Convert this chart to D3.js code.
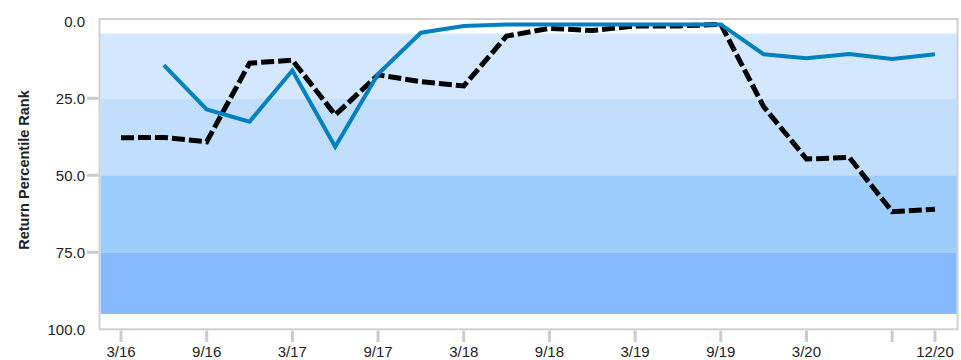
<!DOCTYPE html>
<html><head><meta charset="utf-8">
<script src="https://cdn.jsdelivr.net/npm/d3@7"></script>
<style>body{margin:0;background:#fff}svg{display:block}text{font-family:"Liberation Sans",Arial,sans-serif}</style>
</head><body><svg id="c" width="961" height="360"></svg>
<script>
const quarters = ["3/16","6/16","9/16","12/16","3/17","6/17","9/17","12/17","3/18","6/18","9/18","12/18","3/19","6/19","9/19","12/19","3/20","6/20","9/20","12/20"];
const fundRank = [null,14.2,28.6,32.6,16.0,40.7,17.1,3.7,1.5,1.0,1.0,1.0,1.0,1.0,1.0,10.7,12.0,10.6,12.2,10.7];
const benchRank = [37.8,37.7,39.1,13.6,12.6,30.4,17.4,19.6,21.0,4.8,2.3,3.0,1.5,1.5,1.0,27.7,44.7,44.2,61.8,61.0];
const bandEdges = [[4,25],[25,50],[50,75],[75,95]];
const bandColors = ["#d3e8fe","#c1dffd","#9dcdfc","#86b9fd"];
const yTicks = [0,25,50,75,100];
const xTicks = ["3/16","9/16","3/17","9/17","3/18","9/18","3/19","9/19","3/20","9/20","12/20"];
const xTickLabels = ["3/16","9/16","3/17","9/17","3/18","9/18","3/19","9/19","3/20","","12/20"];

const svg = d3.select("#c");
const x = d3.scalePoint().domain(quarters).range([121, 935]);
const y = d3.scaleLinear().domain([0,100]).range([21.3, 329.3]);
const pLeft = 99.5, pRight = 957.5, pTop = 19;

svg.append("g").selectAll("rect").data(bandEdges).join("rect")
  .attr("x", pLeft + 1).attr("width", pRight - pLeft - 1.5)
  .attr("y", d => y(d[0])).attr("height", d => y(d[1]) - y(d[0]))
  .attr("fill", (d,i) => bandColors[i]);

svg.append("rect").attr("x", pLeft).attr("y", pTop).attr("width", pRight-pLeft).attr("height", y(100)-pTop)
  .attr("fill","none").attr("stroke","#d0d0d0").attr("stroke-width",2);

// y axis
const ya = svg.append("g");
ya.selectAll("line").data(yTicks.filter(d => d>0 && d<100)).join("line")
  .attr("x1", 87).attr("x2", 98.5).attr("y1", d=>y(d)).attr("y2", d=>y(d))
  .attr("stroke","#c8cbcf").attr("stroke-width",3);
ya.selectAll("text").data(yTicks).join("text")
  .attr("x", 85).attr("y", d=>y(d)).attr("dy","0.35em").attr("text-anchor","end")
  .attr("font-size",15).attr("fill","#222").text(d=>d3.format(".1f")(d));
svg.append("text").attr("transform","translate(28.5,170) rotate(-90)").attr("text-anchor","middle")
  .attr("font-size",14.5).attr("font-weight","bold").attr("fill","#222").text("Return Percentile Rank");

// x axis
const xa = svg.append("g");
xa.selectAll("line").data(xTicks).join("line")
  .attr("x1", d=>x(d)).attr("x2", d=>x(d)).attr("y1", 330.5).attr("y2", 342)
  .attr("stroke","#c8cbcf").attr("stroke-width",3);
xa.selectAll("text").data(xTicks).join("text")
  .attr("x", d=>x(d)).attr("y", 357).attr("text-anchor","middle")
  .attr("font-size",15).attr("fill","#222").text((d,i)=>xTickLabels[i]);

const line = d3.line().defined(d => d[1] != null).x(d => x(d[0])).y(d => y(d[1]));
svg.append("path").datum(quarters.map((q,i)=>[q,benchRank[i]])).attr("d", line)
  .attr("fill","none").attr("stroke","#000").attr("stroke-width",5).attr("stroke-dasharray","13,4");
svg.append("path").datum(quarters.map((q,i)=>[q,fundRank[i]])).attr("d", line)
  .attr("fill","none").attr("stroke","#0080c0").attr("stroke-width",4);
</script></body></html>
